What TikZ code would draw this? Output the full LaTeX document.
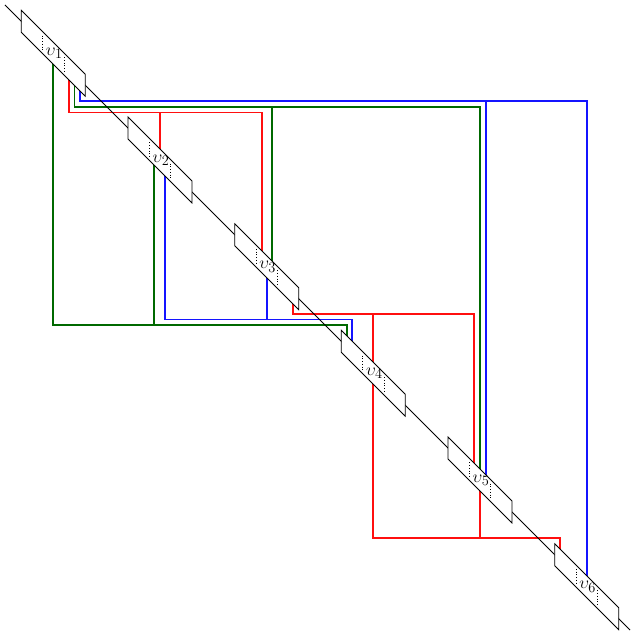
\documentclass[tikz,border=0pt]{standalone}
\usetikzlibrary{calc}
\definecolor{wblue}{RGB}{20,20,255}
\definecolor{wgreen}{RGB}{0,105,0}
\definecolor{wred}{RGB}{255,15,15}
\begin{document}
\begin{tikzpicture}[x=1pt,y=-1pt,
  wire/.style={line width=1.7pt},
  bw/.style={wire,draw=wblue}, gw/.style={wire,draw=wgreen}, rw/.style={wire,draw=wred},
  spine/.style={line width=0.75pt},
  boxline/.style={line width=0.75pt, fill=white, line join=miter},
  dots/.style={dotted, line width=0.75pt},
  lab/.style={font=\fontsize{19}{22}\selectfont, inner sep=0pt}]
\useasboundingbox (0,0) rectangle (630,636);
% box centres
\foreach \i in {1,...,6}
  \coordinate (v\i) at ({53.33+106.67*(\i-1)},{53.33+106.67*(\i-1)});
% ports (b = bottom edge, t = top edge)
\coordinate (v1ba) at ($(v1)+(0,11)$);
\coordinate (v1bb) at ($(v1)+(15.7,26.7)$);
\coordinate (v1bc) at ($(v1)+(21.2,32.2)$);
\coordinate (v1bd) at ($(v1)+(26.7,37.7)$);
\coordinate (v2ta) at ($(v2)+(0,-11)$);
\coordinate (v2ba) at ($(v2)+(-6,5)$);
\coordinate (v2bb) at ($(v2)+(5,16)$);
\coordinate (v3ta) at ($(v3)+(-4.7,-15.7)$);
\coordinate (v3tb) at ($(v3)+(5.3,-5.7)$);
\coordinate (v3ba) at ($(v3)+(0.3,11.3)$);
\coordinate (v3bb) at ($(v3)+(26.3,37.3)$);
\coordinate (v4ta) at ($(v4)+(-26.3,-37.3)$);
\coordinate (v4tb) at ($(v4)+(-21.3,-32.3)$);
\coordinate (v4tc) at ($(v4)+(0,-11)$);
\coordinate (v4ba) at ($(v4)+(0,11)$);
\coordinate (v5ta) at ($(v5)+(-6,-17)$);
\coordinate (v5tb) at ($(v5)+(0,-11)$);
\coordinate (v5tc) at ($(v5)+(6,-5)$);
\coordinate (v5ba) at ($(v5)+(0,11)$);
\coordinate (v6ta) at ($(v6)+(-26.7,-37.7)$);
\coordinate (v6tb) at ($(v6)+(0,-11)$);
% wire levels
\coordinate (LB1) at (0,101);
\coordinate (LG1) at (0,107);
\coordinate (LR1) at (0,112.5);
\coordinate (LR2) at (0,314);
\coordinate (LB2) at (0,319.5);
\coordinate (LG2) at (0,325);
\coordinate (LR3) at (0,538);
% blue wires
\draw[bw] (v1bd) -- (v1bd |- LB1) -- (v6tb |- LB1) -- (v6tb);
\draw[bw] (v5tc |- LB1) -- (v5tc);
\draw[bw] (v2bb) -- (v2bb |- LB2) -- (v4tb |- LB2) -- (v4tb);
\draw[bw] (v3ba) -- (v3ba |- LB2);
% green wires
\draw[gw] (v1bc) -- (v1bc |- LG1) -- (v5tb |- LG1) -- (v5tb);
\draw[gw] (v3tb |- LG1) -- (v3tb);
\draw[gw] (v1ba) -- (v1ba |- LG2) -- (v4ta |- LG2) -- (v4ta);
\draw[gw] (v2ba) -- (v2ba |- LG2);
% red wires
\draw[rw] (v1bb) -- (v1bb |- LR1) -- (v3ta |- LR1) -- (v3ta);
\draw[rw] (v2ta |- LR1) -- (v2ta);
\draw[rw] (v3bb) -- (v3bb |- LR2) -- (v5ta |- LR2) -- (v5ta);
\draw[rw] (v4tc |- LR2) -- (v4tc);
\draw[rw] (v4ba) -- (v4ba |- LR3) -- (v6ta |- LR3) -- (v6ta);
\draw[rw] (v5ba) -- (v5ba |- LR3);
% spine
\coordinate (s0) at (5,5);
\coordinate (s1) at (630,630);
\draw[spine] (s0) -- (s1);
% boxes
\foreach \i in {1,...,6}{
  \draw[boxline] ($(v\i)+(-32,-43)$) -- ($(v\i)+(32,21)$) -- ($(v\i)+(32,43)$) -- ($(v\i)+(-32,-21)$) -- cycle;
  \draw[dots] ($(v\i)+(-10.7,-17.7)$) -- ($(v\i)+(-10.7,-3.7)$);
  \draw[dots] ($(v\i)+(10.7,3.7)$) -- ($(v\i)+(10.7,17.7)$);
  \node[lab] (l\i) at ($(v\i)+(1,0)$) {$\upsilon_{\i}$};
}
\end{tikzpicture}
\end{document}
